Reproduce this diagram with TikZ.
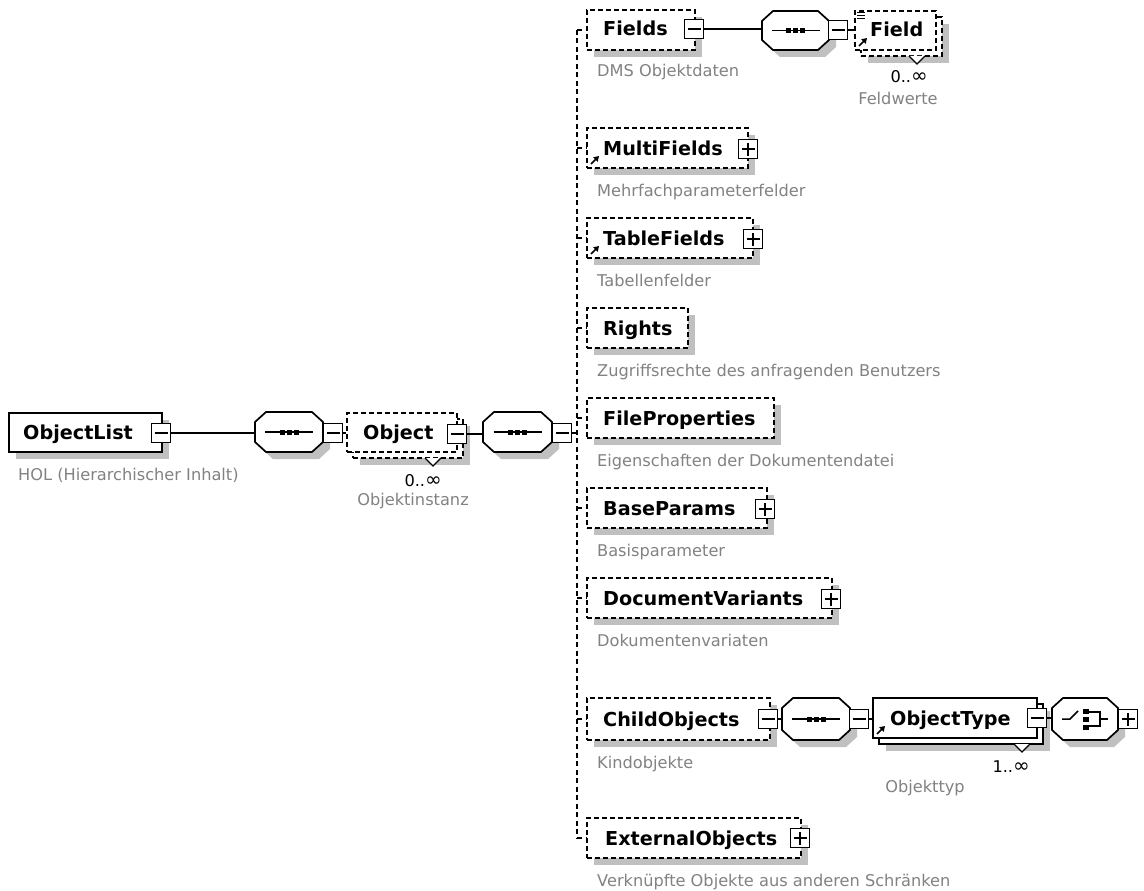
\documentclass[tikz,border=0pt]{standalone}
\usepackage{fontspec}
\setmainfont{DejaVu Sans}
\usetikzlibrary{arrows.meta,calc}
\definecolor{shadowc}{RGB}{192,192,192}
\definecolor{annot}{RGB}{130,130,130}
\newcommand{\lblfont}{\fontsize{19.2}{22}\selectfont\bfseries}
\newcommand{\annfont}{\fontsize{16.2}{19}\selectfont}
\newcommand{\infsym}{{\fontsize{20}{19}\selectfont ∞}}
\tikzset{
  ebx/.style={draw, fill=white, line width=1.7pt, inner sep=0pt},
  dsh/.style={dash pattern=on 5pt off 3pt},
  brk/.style={line width=1.7pt, dash pattern=on 5pt off 3.5pt},
  xbx/.style={draw, fill=white, line width=1.5pt, minimum size=19pt, inner sep=0pt},
  conn/.style={line width=1.5pt},
  lbl/.style={font=\lblfont, anchor=base west, inner sep=0pt},
  ann/.style={font=\annfont, text=annot, anchor=base west, inner sep=0pt},
  annc/.style={font=\annfont, text=annot, anchor=base, inner sep=0pt},
  occ/.style={font=\annfont, anchor=base east, inner sep=0pt},
}
% element box: name, x1,y1,x2,y2, style
\newcommand{\elembox}[6]{%
  \fill[shadowc] (#2+7,#3+7) rectangle (#4+7,#5+7);
  \node[ebx,#6,minimum width={#4-#2},minimum height={#5-#3}] (#1) at ({(#2+#4)/2},{(#3+#5)/2}) {};}
% multiple-occurrence element: name, x1,y1,x2,y2 (front box), style
\newcommand{\multielem}[6]{%
  \fill[shadowc] (#2+13,#3+13) rectangle (#4+13,#5+13);
  \node[ebx,#6,minimum width={#4-#2},minimum height={#5-#3}] (#1back) at ({(#2+#4)/2+6},{(#3+#5)/2+6}) {};
  \node[ebx,#6,minimum width={#4-#2},minimum height={#5-#3}] (#1) at ({(#2+#4)/2},{(#3+#5)/2}) {};}
% occurrence marker: x, y
\newcommand{\occmark}[2]{%
  \draw[fill=white,line width=1.3pt] (#1-8,#2) -- (#1,#2+8) -- (#1+8,#2);}
% compositor octagon: name, x1,y1,x2,y2
\newcommand{\compositor}[5]{%
  \fill[shadowc,shift={(7,7)}] (#2+11,#3) -- (#4-11,#3) -- (#4,#3+10) -- (#4,#5-10) -- (#4-11,#5) -- (#2+11,#5) -- (#2,#5-10) -- (#2,#3+10) -- cycle;
  \draw[fill=white,line width=1.7pt] (#2+11,#3) -- (#4-11,#3) -- (#4,#3+10) -- (#4,#5-10) -- (#4-11,#5) -- (#2+11,#5) -- (#2,#5-10) -- (#2,#3+10) -- cycle;
  \node[inner sep=0pt,minimum width={#4-#2},minimum height={#5-#3}] (#1) at ({(#2+#4)/2},{(#3+#5)/2}) {};}
\newcommand{\minusbox}[3]{%
  \node[xbx] (#1) at (#2,#3) {};
  \draw[line width=1.4pt] ([xshift=-6.5pt]#1.center) -- ([xshift=6.5pt]#1.center);}
\newcommand{\plusbox}[3]{%
  \node[xbx] (#1) at (#2,#3) {};
  \draw[line width=1.4pt] ([xshift=-6.5pt]#1.center) -- ([xshift=6.5pt]#1.center);
  \draw[line width=1.4pt] ([yshift=-6.5pt]#1.center) -- ([yshift=6.5pt]#1.center);}
\newcommand{\seqicon}[1]{%
  \draw[line width=1.5pt] ([xshift=-24pt]#1.center) -- ([xshift=24pt]#1.center);
  \foreach \d in {-7,0,7} \fill ($(#1.center)+(\d-2.5,-2.5)$) rectangle ++(5,5);}
\newcommand{\choiceicon}[1]{%
  \draw[line width=1.5pt] ($(#1.center)+(-23,0)$) -- ++(8,0) -- ++(8,-8);
  \foreach \d in {-8,0,8} \fill ($(#1.center)+(-2,\d-2.5)$) rectangle ++(5.5,5);
  \draw[line width=1.5pt] ($(#1.center)+(3,-7)$) -- ++(12,0) -- ++(0,14) -- ++(-12,0);
  \draw[line width=1.5pt] ($(#1.center)+(15,0)$) -- ++(8,0);}
\newcommand{\refarrow}[2]{%
  \draw[line width=1.6pt,-{Triangle[length=5pt,width=6pt]}] (#1+4,#2-4) -- (#1+12,#2-12);}

\begin{document}
\begin{tikzpicture}[x=1pt,y=-1pt]
\useasboundingbox[fill=white] (0,0) rectangle (1144,891);

% ---------- ObjectList ----------
\elembox{ol}{9}{413}{162}{452}{solid}
\minusbox{mOL}{161}{433}
\node[lbl] (tOL) at (23,439) {ObjectList};
\node[ann] (aOL) at (18,480) {HOL (Hierarchischer Inhalt)};

% ---------- sequence A ----------
\compositor{octA}{255}{412}{323}{452}
\seqicon{octA}
\minusbox{mA}{333}{433}

% ---------- Object ----------
\multielem{obj}{347}{413}{457}{452}{dsh}
\occmark{433}{458}
\minusbox{mObj}{457}{434}
\node[lbl] (tObj) at (363,439) {Object};
\node[occ] (oObj) at (442,486) {0..\infsym};
\node[annc] (aObj) at (413,505) {Objektinstanz};

% ---------- sequence B ----------
\compositor{octB}{483}{412}{552}{452}
\seqicon{octB}
\minusbox{mB}{562}{433}

% ---------- children ----------
\elembox{fields}{587}{10}{695}{50}{dsh}
\minusbox{mF}{694}{29}
\node[lbl] (tF) at (603,36) {Fields};
\node[ann] (aF) at (597,77) {DMS Objektdaten};

\compositor{octC}{762}{11}{829}{50}
\seqicon{octC}
\minusbox{mC}{838}{30}

\multielem{field}{855}{11}{936}{50}{dsh}
\occmark{917}{56}
\foreach \yy in {13,16,19} \draw[line width=1pt] (857,\yy) -- (865,\yy);
\refarrow{855}{50}
\node[lbl] (tFd) at (870,37) {Field};
\node[occ] (oFd) at (928,83) {0..\infsym};
\node[annc] (aFd) at (898,105) {Feldwerte};

\elembox{multi}{587}{128}{748}{168}{dsh}
\plusbox{pMulti}{748}{149}
\refarrow{587}{168}
\node[lbl] (tMulti) at (603,155) {MultiFields};
\node[ann] (aMulti) at (597,196) {Mehrfachparameterfelder};

\elembox{table}{587}{218}{753}{258}{dsh}
\plusbox{pTable}{753}{239}
\refarrow{587}{258}
\node[lbl] (tTable) at (603,245) {TableFields};
\node[ann] (aTable) at (597,286) {Tabellenfelder};

\elembox{rights}{587}{308}{688}{348}{dsh}
\node[lbl] (tRights) at (603,335) {Rights};
\node[ann] (aRights) at (597,376) {Zugriffsrechte des anfragenden Benutzers};

\elembox{fileprops}{587}{398}{774}{438}{dsh}
\node[lbl] (tFP) at (603,425) {FileProperties};
\node[ann] (aFP) at (597,466) {Eigenschaften der Dokumentendatei};

\elembox{base}{587}{488}{767}{528}{dsh}
\plusbox{pBase}{765}{509}
\node[lbl] (tBase) at (603,515) {BaseParams};
\node[ann] (aBase) at (597,556) {Basisparameter};

\elembox{docvar}{587}{578}{832}{618}{dsh}
\plusbox{pDoc}{831}{599}
\node[lbl] (tDoc) at (603,605) {DocumentVariants};
\node[ann] (aDoc) at (597,646) {Dokumentenvariaten};

\elembox{child}{587}{698}{770}{740}{dsh}
\minusbox{mCh}{768}{719}
\node[lbl] (tChild) at (603,726) {ChildObjects};
\node[ann] (aChild) at (597,768) {Kindobjekte};

\compositor{octD}{782}{698}{850}{740}
\seqicon{octD}
\minusbox{mD}{859}{719}

\multielem{otype}{873}{698}{1037}{738}{solid}
\occmark{1022}{744}
\minusbox{mOT}{1037}{718}
\refarrow{873}{738}
\node[lbl] (tOT) at (890,725) {ObjectType};
\node[occ] (oOT) at (1030,772) {1..\infsym};
\node[annc] (aOT) at (925,792) {Objekttyp};

\compositor{octE}{1052}{698}{1118}{740}
\choiceicon{octE}
\plusbox{pE}{1128}{719}

\elembox{ext}{587}{818}{801}{858}{dsh}
\plusbox{pExt}{800}{838}
\node[lbl] (tExt) at (605,845) {ExternalObjects};
\node[ann] (aExt) at (597,886) {Verknüpfte Objekte aus anderen Schränken};

% ---------- connectors ----------
\coordinate (bTop) at (577,30);
\coordinate (bBot) at (577,838);
\draw[brk] (bTop) -- (bBot);
\foreach \n in {fields,multi,table,rights,fileprops,base,docvar,child,ext}
  \draw[brk] (\n.west -| bTop) -- (\n.west);
\draw[conn] (mOL.east) -- (mOL.east -| octA.west);
\draw[conn] (mA.east) -- (mA.east -| obj.west);
\draw[conn] (mObj.east) -- (mObj.east -| octB.west);
\draw[conn] (mB.east) -- (mB.east -| bTop);
\draw[conn] (mF.east) -- (mF.east -| octC.west);
\draw[conn] (mC.east) -- (mC.east -| field.west);
\draw[conn] (mCh.east) -- (mCh.east -| octD.west);
\draw[conn] (mD.east) -- (mD.east -| otype.west);
\draw[conn] (mOT.east) -- (mOT.east -| octE.west);
\end{tikzpicture}
\end{document}
